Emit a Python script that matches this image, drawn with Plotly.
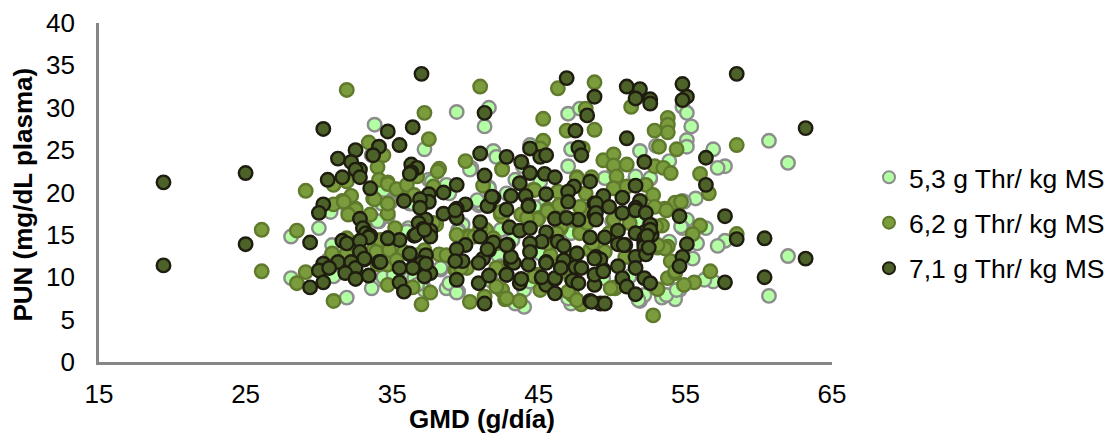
import plotly.graph_objects as go

SERIES_NAMES = ["5,3 g Thr/ kg MS", "6,2 g Thr/ kg MS", "7,1 g Thr/ kg MS"]
X_TICKS = [15, 25, 35, 45, 55, 65]
Y_TICKS = [0, 5, 10, 15, 20, 25, 30, 35, 40]

# (GMD, PUN)
thr_53 = [
 (33.8,28.0),(34.4,19.9),(33.6,24.4),(34.7,18.5),(30.0,15.8),(28.1,14.8),(28.1,9.9),(31.9,7.6),(30.9,13.8),(30.7,17.8),
 (30.6,12.0),(31.0,10.3),(33.7,9.3),(33.6,8.7),(34.1,16.6),(32.0,18.0),(34.4,10.0),(41.6,30.0),(39.4,29.5),(41.3,27.8),
 (37.2,25.1),(40.4,22.9),(37.5,21.5),(41.9,24.9),(42.1,24.2),(38.7,20.7),(38.9,19.9),(41.6,20.6),(40.9,19.0),(43.4,21.5),
 (43.9,23.1),(44.4,25.6),(47.0,29.3),(47.8,29.9),(47.2,25.1),(47.0,23.1),(42.8,19.9),(34.9,18.9),(54.8,30.1),(55.1,29.4),
 (55.4,27.8),(55.1,26.2),(55.1,25.4),(60.7,26.1),(62.0,23.5),(56.9,25.1),(57.7,23.1),(57.2,22.9),(51.9,24.9),(53.9,23.7),
 (53.0,25.5),(49.7,21.7),(51.6,21.8),(52.6,21.6),(55.7,19.3),(54.8,19.0),(55.1,16.8),(56.4,15.8),(54.8,15.8),(55.8,14.0),
 (57.7,14.3),(57.2,13.7),(62.0,12.5),(60.7,7.8),(56.9,9.5),(56.3,9.7),(55.5,12.2),(54.6,8.5),(54.3,7.4),(53.4,7.6),
 (51.9,7.2),(52.2,7.9),(50.0,16.6),(51.6,16.4),(44.0,6.5),(43.4,6.9),(39.5,8.3),(38.7,8.7),(38.9,9.3),(37.2,8.7),
 (38.3,10.9),(36.1,15.8),(39.4,15.0),(39.8,16.2),(42.4,15.6),(43.2,14.4),(42.2,12.6),(44.0,8.5),(36.2,9.9),(40.8,18.7),
 (45.3,18.5),(47.2,6.9),(47.0,7.5),(41.8,9.5),(39.1,12.4),(34.7,17.2),(42.4,11.3),(36.5,9.9),(37.2,8.5),(39.4,8.2),
 (50.1,16.6),(51.7,16.6),(54.7,16.0),(54.9,18.9),(49.5,21.7),(51.6,21.9),(52.6,21.7),(51.8,7.3),(34.0,16.6),(34.8,18.9),
 (36.2,18.7),(36.0,15.4),(39.5,15.6),(40.9,18.5),(37.7,21.3),(34.4,20.3),(40.3,22.7),
 (30.8,17.7),(32.1,17.9),(34.3,18.7),(36.4,18.7),(38.7,20.9),(39.5,15.4),(41.0,18.7),(40.8,19.1),(41.6,20.5),
 (31.0,10.1),(35.1,10.3),(38.3,11.1),(39.0,12.4),(36.7,9.1),(45.1,21.3),(53.9,14.2),(47.2,15.2),(44.7,18.3),
 (45.1,12.8),(44.4,9.5),(49.4,9.9),(53.7,7.9),(54.4,8.5),(51.2,10.1),
]
thr_62 = [
 (31.9,32.1),(29.1,20.2),(33.4,25.9),(34.4,24.4),(34.0,23.0),(34.1,21.5),(34.7,21.2),(31.9,21.3),(31.0,20.9),(33.7,19.3),
 (32.2,19.6),(31.6,19.0),(31.0,18.6),(32.5,18.1),(26.1,15.6),(26.1,10.7),(28.5,15.5),(29.1,10.6),(28.5,9.3),(31.0,7.2),
 (30.9,12.8),(33.5,17.4),(34.7,17.5),(31.9,14.6),(33.7,13.2),(34.4,12.8),(34.7,9.1),(31.9,12.9),(34.0,11.5),(34.7,11.5),
 (41.0,32.5),(46.3,32.3),(48.8,33.0),(48.2,29.9),(45.3,28.7),(46.9,27.3),(48.8,27.4),(37.2,29.4),(37.5,26.3),(45.3,26.1),
 (38.2,22.8),(40.0,23.7),(42.5,22.8),(41.2,20.8),(34.7,21.0),(35.3,20.4),(36.2,19.8),(37.8,20.7),(45.1,25.2),(48.0,25.2),
 (47.6,21.8),(48.6,21.8),(44.6,20.3),(46.3,20.1),(36.7,21.9),(51.3,30.1),(53.8,28.8),(53.8,28.0),(53.8,27.1),(52.9,27.3),
 (53.2,25.4),(54.4,25.1),(58.5,25.6),(49.4,23.8),(50.1,24.5),(50.1,23.2),(51.0,23.3),(52.9,23.1),(53.5,22.9),(54.0,22.3),
 (50.3,21.9),(56.0,22.2),(56.6,19.9),(50.1,20.5),(51.0,20.7),(52.3,20.9),(52.8,19.7),(54.3,18.8),(53.6,18.1),(52.9,18.3),
 (53.7,17.9),(53.4,16.1),(56.0,16.1),(55.5,15.1),(58.5,15.1),(53.8,13.6),(54.0,11.9),(53.8,9.9),(54.3,10.5),(56.7,10.7),
 (55.6,9.4),(54.9,9.1),(53.1,8.6),(52.8,5.5),(50.2,8.7),(51.0,12.4),(53.1,13.5),(42.5,8.4),(42.7,7.4),(43.7,7.2),
 (42.5,11.1),(45.1,8.5),(47.3,7.9),(47.9,6.8),(50.2,8.8),(35.2,15.8),(38.2,12.7),(37.6,8.2),(37.0,6.8),(36.4,8.8),
 (40.3,7.1),(41.3,7.7),(42.5,8.5),(42.8,7.5),(40.1,11.1),(39.3,10.9),(41.4,15.6),(40.1,14.8),(45.0,17.0),(43.8,17.4),
 (42.4,17.4),(46.5,15.8),(47.8,15.4),(45.6,18.0),(48.1,18.0),(46.3,18.3),(46.6,10.7),(34.5,12.4),(35.8,13.0),(37.2,13.2),
 (44.7,10.3),(31.7,18.9),(32.5,18.0),(33.8,19.2),(34.2,14.4),(40.3,14.8),(38.1,22.5),(33.9,13.0),(38.7,12.6),(39.4,10.9),
 (54.7,18.9),(47.6,21.7),(44.7,20.3),(48.2,19.9),(46.4,18.5),(47.8,18.3),(44.9,16.8),(50.1,16.8),(47.8,15.2),(48.3,16.4),
 (49.8,15.2),(48.5,13.2),(47.6,12.8),(42.5,17.2),
 (32.0,17.4),(34.7,18.7),(33.1,15.8),(34.8,13.2),(36.0,20.9),(38.0,16.2),(36.5,19.7),(40.6,14.8),(39.4,15.0),(41.9,14.6),
 (42.1,14.0),(35.3,12.0),(36.7,12.6),(39.7,11.1),(42.1,11.1),(42.1,8.9),(32.6,13.6),(42.5,22.7),(42.4,17.7),(46.5,16.0),
 (47.4,16.8),(45.6,17.8),(51.2,16.4),(53.0,16.0),(49.5,13.0),(50.9,12.4),(53.6,13.4),(53.1,13.8),(54.3,10.7),(49.9,8.7),
 (47.3,10.5),(47.2,9.9),(47.0,8.3),(45.8,12.6),(47.2,12.6),(44.9,10.3),(41.0,15.8),(44.2,17.0),(45.6,14.0),(46.5,11.3),
 (44.7,10.1),(47.6,7.3),(48.7,14.0),(37.8,16.4),(46.2,15.2),
]
thr_71 = [
 (19.4,21.2),(25.0,22.3),(30.3,27.5),(34.7,27.2),(32.5,25.0),(34.1,25.4),(33.7,24.4),(31.3,24.0),(32.2,23.6),(32.8,22.7),
 (32.5,22.7),(30.6,21.5),(31.6,21.8),(32.8,21.8),(33.5,20.5),(30.3,18.6),(19.4,11.4),(25.0,13.9),(29.4,14.1),(30.0,17.6),
 (32.8,16.9),(33.0,15.8),(33.2,15.2),(33.5,14.9),(33.4,14.7),(34.7,14.6),(31.6,14.3),(31.9,14.0),(32.8,14.3),(32.8,13.0),
 (30.3,11.6),(31.3,11.8),(32.2,11.8),(34.1,11.8),(33.1,12.1),(30.0,10.8),(30.7,11.1),(32.5,11.1),(31.8,10.5),(33.4,10.2),
 (32.5,9.8),(30.3,9.4),(29.4,8.8),(37.0,34.0),(36.4,27.7),(35.5,25.6),(36.3,23.3),(36.7,22.9),(36.3,22.4),(39.4,20.9),
 (38.5,20.0),(37.5,19.8),(37.5,18.9),(36.9,19.2),(35.8,19.0),(36.9,18.2),(41.3,29.4),(41.0,24.6),(42.8,24.2),(41.3,22.0),
 (43.8,23.6),(44.4,25.2),(45.1,24.2),(45.5,24.4),(44.4,22.3),(45.4,22.2),(46.1,21.8),(43.7,21.1),(41.9,19.4),(43.1,19.6),
 (44.1,19.6),(45.5,19.8),(41.6,18.5),(40.0,18.6),(39.4,18.1),(42.8,18.0),(44.3,18.5),(46.9,33.5),(48.8,31.3),(48.3,29.1),
 (47.5,27.3),(47.7,25.3),(47.9,24.4),(47.4,20.7),(47.0,20.1),(48.5,21.3),(47.0,18.9),(48.8,18.7),(38.5,17.5),(39.4,17.0),
 (46.1,16.9),(47.7,16.8),(48.8,17.4),(41.0,16.5),(43.0,15.9),(43.7,15.5),(44.4,15.8),(45.5,15.3),(45.2,14.2),(46.3,14.2),
 (46.7,13.7),(44.4,14.0),(42.9,13.8),(48.5,14.7),(37.3,16.8),(36.8,16.4),(37.6,15.5),(37.1,15.7),(37.6,14.8),(36.5,14.9),
 (35.5,14.4),(41.0,14.8),(40.0,13.8),(39.4,13.3),(41.6,13.2),(41.9,14.1),(41.2,12.2),(40.9,11.7),(39.8,11.9),(36.2,12.7),
 (37.3,12.6),(37.0,11.7),(36.4,11.1),(35.5,11.1),(34.2,11.8),(37.6,10.5),(37.2,10.1),(35.5,9.4),(35.8,8.3),(39.4,9.7),
 (40.9,9.3),(41.6,10.2),(42.8,10.3),(43.1,11.8),(43.3,11.7),(44.3,11.5),(43.1,12.4),(43.7,9.3),(43.8,9.8),(45.5,11.8),
 (46.7,12.0),(47.5,11.2),(47.9,11.1),(47.6,12.8),(45.2,9.9),(45.5,9.1),(46.1,9.8),(46.1,8.1),(47.3,9.6),(47.7,9.3),
 (41.3,6.9),(48.5,7.2),(49.2,6.9),(48.9,12.4),(48.8,9.1),(58.5,34.0),(63.2,27.6),(54.8,32.8),(55.1,31.3),(54.8,30.9),
 (51.0,32.5),(51.9,32.2),(51.6,31.1),(52.6,31.0),(52.6,30.5),(51.0,26.4),(52.2,23.6),(56.4,24.1),(56.4,20.9),(51.6,20.8),
 (49.4,19.6),(50.7,19.4),(51.9,19.0),(48.9,18.7),(49.8,18.3),(51.6,18.2),(57.7,17.2),(60.4,14.6),(58.5,14.5),(63.2,12.2),
 (60.4,10.0),(57.7,9.4),(54.6,17.2),(55.1,13.9),(54.8,12.4),(54.6,11.3),(50.7,17.6),(51.6,17.9),(48.9,17.6),(52.3,17.6),
 (52.6,16.2),(52.7,15.0),(52.2,15.3),(52.2,14.2),(52.2,13.2),(51.6,15.2),(50.4,15.5),(49.5,14.7),(50.4,13.9),(50.9,13.8),
 (51.6,12.4),(51.6,11.1),(50.4,11.3),(49.4,10.9),(49.2,12.1),(52.2,9.9),(52.6,9.3),(50.7,9.9),(51.0,8.9),(51.6,8.0),
 (49.5,6.9),(48.6,7.1),(44.3,18.4),(46.9,17.0),(48.9,16.8),(50.8,13.8),(42.8,13.8),(42.8,10.3),(44.4,13.0),(45.5,11.7),
 (45.2,10.0),(46.1,9.9),(46.5,11.1),(48.8,10.3),(48.8,12.2),(49.4,10.7),(41.5,18.4),(52.2,14.6),(52.2,14.0),(34.7,14.6),
 (33.1,12.2),(41.5,13.3),(39.3,11.9),(39.3,17.9),(41.8,19.5),(36.2,22.2),(36.6,15.0),(37.2,15.6),(36.2,12.8),(37.3,11.6),
 (52.2,13.6),(52.3,12.7),(52.6,15.6),(52.4,14.9),(52.5,13.5),
]

STYLES = [("#B3FFA3", "#8C8C8C"), ("#7A9C3C", "#5F7A2C"), ("#4C6228", "#1F1C10")]
FONT = "Liberation Sans, Arial, sans-serif"

fig = go.Figure()
for name, pts, (fill, edge) in zip(SERIES_NAMES, [thr_53, thr_62, thr_71], STYLES):
    xs = [p[0] for p in pts]
    ys = [p[1] for p in pts]
    fig.add_trace(go.Scatter(
        x=xs, y=ys, mode="markers", name=name, legendgroup=name,
        marker=dict(size=13.5, color=fill, line=dict(color=edge, width=2.4)),
    ))

axis = dict(showgrid=False, zeroline=False, showline=True, linecolor="#868686", linewidth=2.7, automargin=False,
            ticks="", tickfont=dict(family=FONT, size=26, color="#000000"))
fig.update_xaxes(range=[15, 65], tickvals=X_TICKS, ticklabelstandoff=7, **axis)
fig.update_yaxes(range=[0, 40], tickvals=Y_TICKS, ticklabelstandoff=16, **axis)

fig.add_annotation(text="<b>GMD (g/día)</b>", xref="paper", yref="paper", x=(482-98.5)/733.5, y=-(419-362)/339,
                   xanchor="center", yanchor="middle",
                   showarrow=False, font=dict(family=FONT, size=26, color="#000"))
fig.add_annotation(text="<b>PUN (mg/dL plasma)</b>", xref="paper", yref="paper", x=-(98.5-22)/733.5, y=(362-195)/339,
                   xanchor="center", yanchor="middle",
                   textangle=-90, showarrow=False, font=dict(family=FONT, size=26, color="#000"))

fig.update_layout(
    width=1108, height=433, autosize=False,
    margin=dict(l=98.5, r=276, t=23, b=71),
    paper_bgcolor="white", plot_bgcolor="white",
    legend=dict(xref="container", yref="container", x=869/1108, xanchor="left", y=(433-223)/433, yanchor="middle",
                font=dict(family=FONT, size=26.5, color="#000"),
                tracegroupgap=8, itemsizing="constant", bgcolor="rgba(0,0,0,0)"),
    showlegend=True,
)

fig.write_html("out.html", config={"displayModeBar": False},
               post_script="document.body.style.margin='0';")
